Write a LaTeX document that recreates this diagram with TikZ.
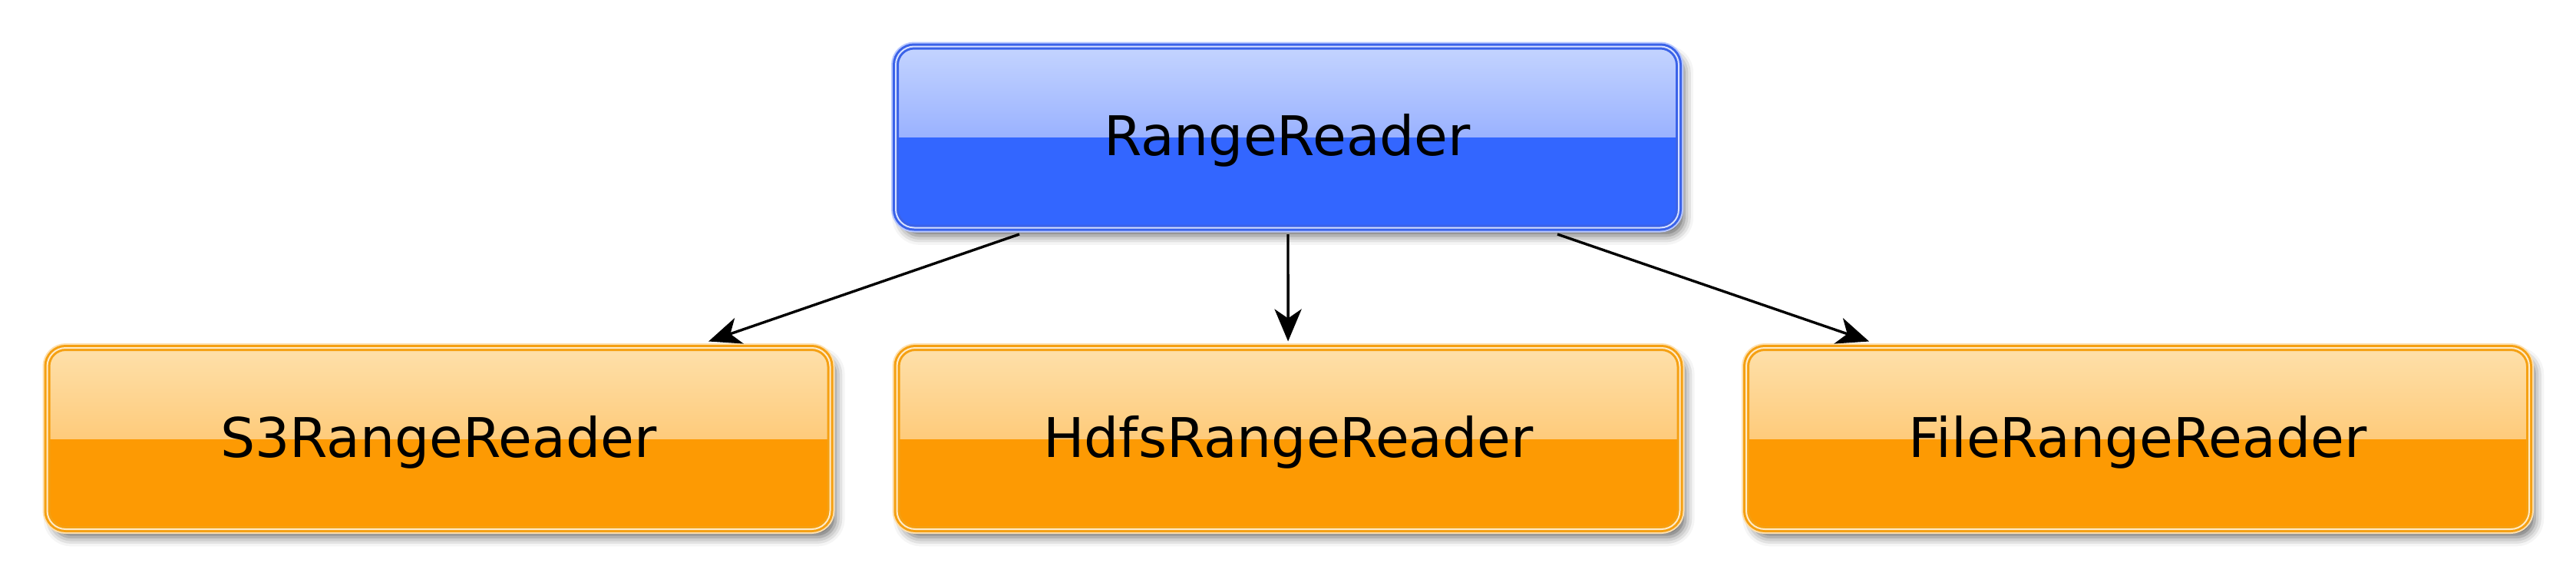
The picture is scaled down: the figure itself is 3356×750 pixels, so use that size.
\documentclass[tikz,border=0pt]{standalone}
\usepackage{fontspec}
\setmainfont{DejaVu Sans}
\usetikzlibrary{arrows.meta,shadows.blur}
\definecolor{bluebase}{HTML}{3366FF}
\definecolor{bluetop}{HTML}{C4D4FF}
\definecolor{bluemid}{HTML}{7090FF}
\definecolor{blueline}{HTML}{3A62E8}
\definecolor{bluehalo}{HTML}{B8C8FF}
\definecolor{bluewhite}{HTML}{D6E0FF}
\definecolor{orbase}{HTML}{FD9A03}
\definecolor{ortop}{HTML}{FEE0AA}
\definecolor{ormid}{HTML}{FDB64C}
\definecolor{orline}{HTML}{F5A012}
\definecolor{orhalo}{HTML}{FDE0B0}
\definecolor{orwhite}{HTML}{FFEBC8}
\tikzset{
  glossbox/.style n args={6}{
    rectangle, rounded corners=6pt,
    minimum width=255pt, minimum height=59pt, inner sep=0pt,
    text height=12pt, text depth=0pt,
    blur shadow={shadow xshift=1.8pt, shadow yshift=-2.6pt, shadow blur radius=3pt, shadow opacity=60},
    preaction={draw=#5, line width=3pt},
    fill=#1,
    path picture={\shade[sharp corners, top color=#2, bottom color=#3]
      (path picture bounding box.north west) rectangle (path picture bounding box.east);},
    draw=#4, line width=0.75pt, double=#6, double distance=0.5pt,
    font=\fontsize{17.8}{21}\selectfont, text=black
  },
  bluebox/.style={glossbox={bluebase}{bluetop}{bluemid}{blueline}{bluehalo}{bluewhite}},
  orangebox/.style={glossbox={orbase}{ortop}{ormid}{orline}{orhalo}{orwhite}},
  conn/.style={draw=black, line width=0.85pt,
    -{Stealth[length=10.5pt, width=8.8pt, inset=3pt]}}
}
\begin{document}
\begin{tikzpicture}[x=0.25pt, y=-0.25pt]
\useasboundingbox (0,0) rectangle (3356,750);
\node[bluebox] (top) at (1677,178.5) {RangeReader};
\node[orangebox] (s3) at (571.5,571) {S3RangeReader};
\node[orangebox] (hdfs) at (1678.5,571) {HdfsRangeReader};
\node[orangebox] (file) at (2785,571) {FileRangeReader};
\draw[conn] ([xshift=-87.25pt, yshift=-1.75pt]top.south) -- ([xshift=87.9pt, yshift=1.75pt]s3.north);
\draw[conn] ([xshift=0.25pt, yshift=-1.75pt]top.south) -- ([xshift=-0.1pt, yshift=1.75pt]hdfs.north);
\draw[conn] ([xshift=88pt, yshift=-1.75pt]top.south) -- ([xshift=-87.5pt, yshift=1.75pt]file.north);
\end{tikzpicture}
\end{document}
